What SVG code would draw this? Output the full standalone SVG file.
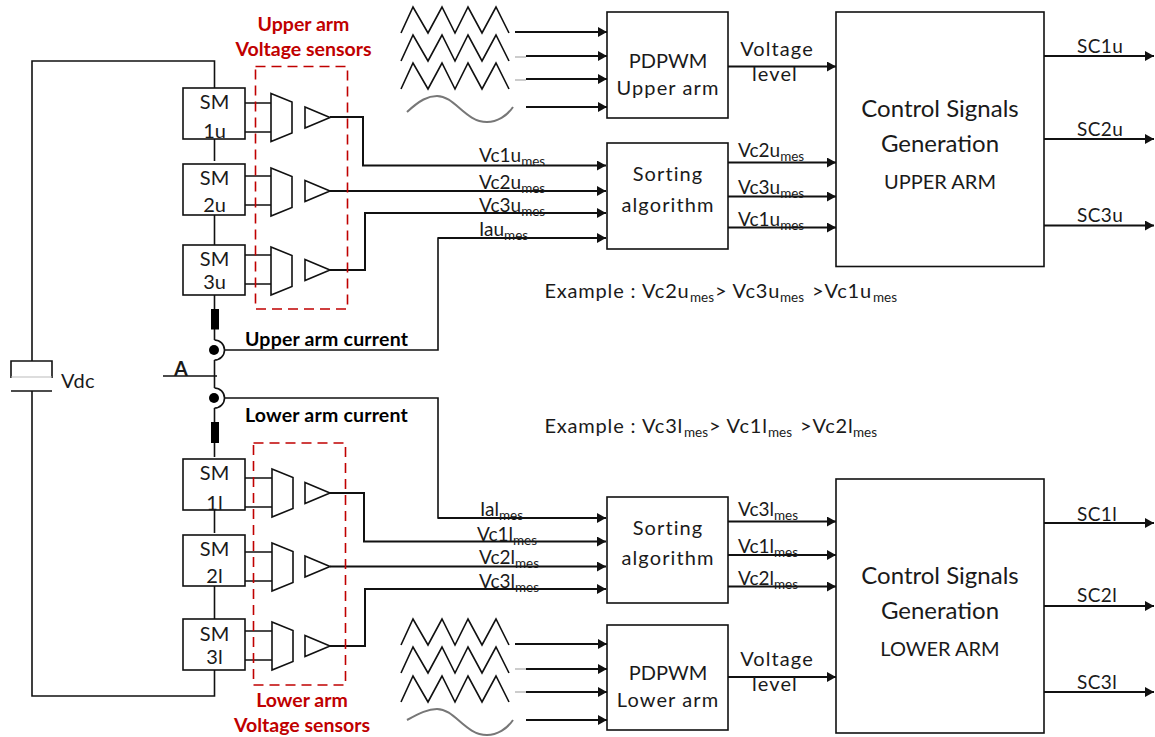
<svg xmlns="http://www.w3.org/2000/svg" width="1155" height="737" viewBox="0 0 1155 737">
<style>
text{font-family:"Lato","Carlito","Open Sans",sans-serif;font-size:20px;fill:#1a1a1a}
.m{text-anchor:middle}
.s{font-size:13.500px;letter-spacing:0}
.lab{font-size:19px}
.sc{font-size:19px;letter-spacing:.4px}
.ex{font-size:20px;letter-spacing:.8px}
.sp{letter-spacing:1.100px}
.b{font-weight:700;font-size:19.500px;letter-spacing:.2px;fill:#000}
.r{font-weight:700;font-size:19.500px;fill:#c00000;text-anchor:middle}
.big{font-size:24px}
.box{fill:#fff;stroke:#111;stroke-width:1.6}
.w{fill:none;stroke:#111;stroke-width:1.6}
.t{fill:none;stroke:#111;stroke-width:2}
.d{fill:none;stroke:#c00000;stroke-width:1.6;stroke-dasharray:10 6}
.sine{fill:none;stroke:#777;stroke-width:2}
.g{fill:none;stroke:#999;stroke-width:1}
</style>
<defs>
<marker id="a" markerUnits="userSpaceOnUse" markerWidth="10" markerHeight="10" refX="9" refY="5" orient="auto"><path d="M0 0L9 5L0 10Z" fill="#111"/></marker>
<path id="mux" class="w" d="M0 0L21 8.500V39.500L0 48Z"/>
<path id="tri" class="w" d="M0 0L25 10.500L0 21Z"/>
<path id="zig" class="w" d="M0 26L12 0L27 26L41 0L54 26L67 0L81 26L95 0L108 26"/>
</defs>

<g id="connectors">
<path class="w" d="M32 361V61H214.500V88M214.500 139V161M214.500 215V245M214.500 295V340M214.500 360V388M163 376H217M214.500 408V457M214.500 510V533M214.500 586V619M214.500 670V696H32V391"/>
<path class="w" d="M224 350H438V238H596M224 398H438V518H596"/>
<path class="w" d="M245 103H271M245 132H271M245 176H271M245 205H271M245 255H271M245 284H271M245 478H272M245 507H272M245 552H272M245 581H272M245 631H272M245 660H272"/>
<path class="t" marker-end="url(#a)" d="M330 117H363V165.500H606"/>
<path class="t" marker-end="url(#a)" d="M330 191H606"/>
<path class="t" marker-end="url(#a)" d="M330 270H365V213H606"/>
<path class="t" marker-end="url(#a)" d="M438 238H606"/>
<path class="t" marker-end="url(#a)" d="M438 518H606"/>
<path class="t" marker-end="url(#a)" d="M330 493H364V541.500H606"/>
<path class="t" marker-end="url(#a)" d="M330 566.500H606"/>
<path class="t" marker-end="url(#a)" d="M330 646H365V589H606"/>
<path class="t" marker-end="url(#a)" d="M515 32H607"/>
<path class="t" marker-end="url(#a)" d="M526 56H607"/>
<path class="t" marker-end="url(#a)" d="M526 79H607"/>
<path class="t" marker-end="url(#a)" d="M526 107H607"/>
<path class="g" d="M515 57H526M515 80H526"/>
<path class="t" marker-end="url(#a)" d="M515 644H607"/>
<path class="t" marker-end="url(#a)" d="M526 669H607"/>
<path class="t" marker-end="url(#a)" d="M526 692H607"/>
<path class="t" marker-end="url(#a)" d="M526 720H607"/>
<path class="g" d="M515 669H526M515 692H526"/>
<path class="t" marker-end="url(#a)" d="M728 66.500H836"/>
<path class="t" marker-end="url(#a)" d="M728 162.500H836"/>
<path class="t" marker-end="url(#a)" d="M728 196.500H836"/>
<path class="t" marker-end="url(#a)" d="M728 227.500H836"/>
<path class="t" marker-end="url(#a)" d="M728 521.500H836"/>
<path class="t" marker-end="url(#a)" d="M728 555H836"/>
<path class="t" marker-end="url(#a)" d="M728 586.500H836"/>
<path class="t" marker-end="url(#a)" d="M728 677H836"/>
<path class="t" marker-end="url(#a)" d="M1044 56H1154"/>
<path class="t" marker-end="url(#a)" d="M1044 139H1154"/>
<path class="t" marker-end="url(#a)" d="M1044 225.500H1154"/>
<path class="t" marker-end="url(#a)" d="M1044 523H1154"/>
<path class="t" marker-end="url(#a)" d="M1044 606H1154"/>
<path class="t" marker-end="url(#a)" d="M1044 692H1154"/>
</g>

<g id="vdc">
<path class="w" d="M11 378V361H52V378"/><path d="M11 377H52" stroke="#bbb" stroke-width="1"/><path class="w" d="M11 391H52"/>
<text x="61" y="388" style="letter-spacing:.4px">Vdc</text>
</g>
<g id="node-a"><text x="181" y="376" class="m" style="font-weight:700;font-size:20px">A</text></g>

<g id="sm1u"><rect class="box" x="183" y="88" width="62" height="51"/><text class="m" x="214.500" y="109">SM</text><text class="m" x="214.500" y="138">1u</text></g>
<g id="sm2u"><rect class="box" x="183" y="164" width="62" height="51"/><text class="m" x="214.500" y="185">SM</text><text class="m" x="214.500" y="212">2u</text></g>
<g id="sm3u"><rect class="box" x="183" y="245" width="62" height="50"/><text class="m" x="214.500" y="266">SM</text><text class="m" x="214.500" y="289">3u</text></g>
<g id="sm1l"><rect class="box" x="183" y="459" width="62" height="51"/><text class="m" x="214.500" y="480">SM</text><text class="m" x="214.500" y="510">1l</text></g>
<g id="sm2l"><rect class="box" x="183" y="535" width="62" height="51"/><text class="m" x="214.500" y="556">SM</text><text class="m" x="214.500" y="583">2l</text></g>
<g id="sm3l"><rect class="box" x="183" y="619" width="62" height="51"/><text class="m" x="214.500" y="641">SM</text><text class="m" x="214.500" y="664">3l</text></g>

<g id="upper-sensors">
<rect class="d" x="255.500" y="66.500" width="92" height="242.500"/>
<use href="#mux" x="271" y="93.500"/><use href="#mux" x="271" y="168"/><use href="#mux" x="271" y="247"/>
<use href="#tri" x="305" y="107"/><use href="#tri" x="305" y="180.500"/><use href="#tri" x="305" y="259.500"/>
<text class="r" x="303.500" y="31">Upper arm</text><text class="r" x="303.500" y="56">Voltage sensors</text>
</g>
<g id="lower-sensors">
<rect class="d" x="253.500" y="443" width="92" height="242"/>
<use href="#mux" x="272" y="469"/><use href="#mux" x="272" y="543"/><use href="#mux" x="272" y="622"/>
<use href="#tri" x="305" y="482.500"/><use href="#tri" x="305" y="556"/><use href="#tri" x="305" y="635.500"/>
<text class="r" x="302" y="707">Lower arm</text><text class="r" x="302" y="732">Voltage sensors</text>
</g>

<g id="current-sensor-upper">
<path class="w" d="M214.500 340A10 10 0 0 1 214.500 360"/><circle cx="214" cy="350" r="5" fill="#000"/>
<rect x="211" y="309" width="8" height="20.500" fill="#000"/>
<text class="b" x="245" y="346">Upper arm current</text>
</g>
<g id="current-sensor-lower">
<path class="w" d="M214.500 388A10 10 0 0 1 214.500 408"/><circle cx="214" cy="398" r="5" fill="#000"/>
<rect x="211" y="422" width="8" height="21" fill="#000"/>
<text class="b" x="245" y="422">Lower arm current</text>
</g>

<g id="carriers-upper">
<use href="#zig" x="401" y="7"/><use href="#zig" x="401" y="35"/><use href="#zig" x="401" y="63"/>
<path class="sine" d="M407 112C420 100 428 96 437 96C455 96 465 122 487 122C497 122 507 116 513 107"/>
</g>
<g id="carriers-lower">
<use href="#zig" x="401" y="619"/><use href="#zig" x="401" y="647"/><use href="#zig" x="401" y="676"/>
<path class="sine" d="M407 720C420 713 428 709 437 709C455 709 465 735 487 735C497 735 507 729 513 720"/>
</g>

<g id="pdpwm-upper"><rect class="box" x="607" y="12" width="121" height="106"/><text class="m" x="668" y="68">PDPWM</text><text class="m sp" x="668" y="95">Upper arm</text></g>
<g id="sorting-upper"><rect class="box" x="607" y="143" width="121" height="106"/><text class="m sp" x="668" y="181">Sorting</text><text class="m sp" x="668" y="212">algorithm</text></g>
<g id="sorting-lower"><rect class="box" x="607" y="497" width="121" height="106"/><text class="m sp" x="668" y="535">Sorting</text><text class="m sp" x="668" y="565">algorithm</text></g>
<g id="pdpwm-lower"><rect class="box" x="607" y="625" width="121" height="105"/><text class="m" x="668" y="680">PDPWM</text><text class="m sp" x="668" y="707">Lower arm</text></g>

<g id="control-upper"><rect class="box" x="836" y="12" width="208" height="254.500"/><text class="m big" x="940" y="117">Control Signals</text><text class="m big" x="940" y="152">Generation</text><text class="m" x="940" y="189">UPPER ARM</text></g>
<g id="control-lower"><rect class="box" x="836" y="479" width="208" height="254"/><text class="m big" x="940" y="584">Control Signals</text><text class="m big" x="940" y="619">Generation</text><text class="m" x="940" y="656">LOWER ARM</text></g>

<g id="labels">
<text class="m sp" x="777" y="56">Voltage</text><text class="m sp" x="775" y="81">level</text>
<text class="m sp" x="777" y="666">Voltage</text><text class="m sp" x="775" y="691">level</text>
<text class="lab" x="479" y="162">Vc1u<tspan class="s" dy="4">mes</tspan></text>
<text class="lab" x="479" y="189">Vc2u<tspan class="s" dy="4">mes</tspan></text>
<text class="lab" x="479" y="212">Vc3u<tspan class="s" dy="4">mes</tspan></text>
<text class="lab" x="479" y="236">Iau<tspan class="s" dy="4">mes</tspan></text>
<text class="lab" x="738" y="157">Vc2u<tspan class="s" dy="4">mes</tspan></text>
<text class="lab" x="738" y="194">Vc3u<tspan class="s" dy="4">mes</tspan></text>
<text class="lab" x="738" y="226">Vc1u<tspan class="s" dy="4">mes</tspan></text>
<text class="lab" x="480" y="516">Ial<tspan class="s" dy="4">mes</tspan></text>
<text class="lab" x="477" y="541">Vc1l<tspan class="s" dy="4">mes</tspan></text>
<text class="lab" x="479" y="564">Vc2l<tspan class="s" dy="4">mes</tspan></text>
<text class="lab" x="479" y="588">Vc3l<tspan class="s" dy="4">mes</tspan></text>
<text class="lab" x="738" y="516">Vc3l<tspan class="s" dy="4">mes</tspan></text>
<text class="lab" x="738" y="553">Vc1l<tspan class="s" dy="4">mes</tspan></text>
<text class="lab" x="738" y="585">Vc2l<tspan class="s" dy="4">mes</tspan></text>
<text class="ex" x="544.500" y="298">Example : <tspan x="642">Vc2u</tspan><tspan class="s" x="690" dy="4">mes</tspan><tspan x="715" dy="-4">&gt; Vc3u</tspan><tspan class="s" x="780" dy="4">mes</tspan><tspan x="812" dy="-4">&gt;Vc1u</tspan><tspan class="s" x="873" dy="4">mes</tspan></text>
<text class="ex" x="544.500" y="433">Example : <tspan x="642">Vc3l</tspan><tspan class="s" x="684" dy="4">mes</tspan><tspan x="709" dy="-4">&gt; Vc1l</tspan><tspan class="s" x="768" dy="4">mes</tspan><tspan x="800" dy="-4">&gt;Vc2l</tspan><tspan class="s" x="853" dy="4">mes</tspan></text>
<text class="sc" x="1077" y="53">SC1u</text><text class="sc" x="1077" y="136">SC2u</text><text class="sc" x="1077" y="222">SC3u</text>
<text class="sc" x="1077" y="521">SC1l</text><text class="sc" x="1077" y="602">SC2l</text><text class="sc" x="1077" y="689">SC3l</text>
</g>
</svg>
